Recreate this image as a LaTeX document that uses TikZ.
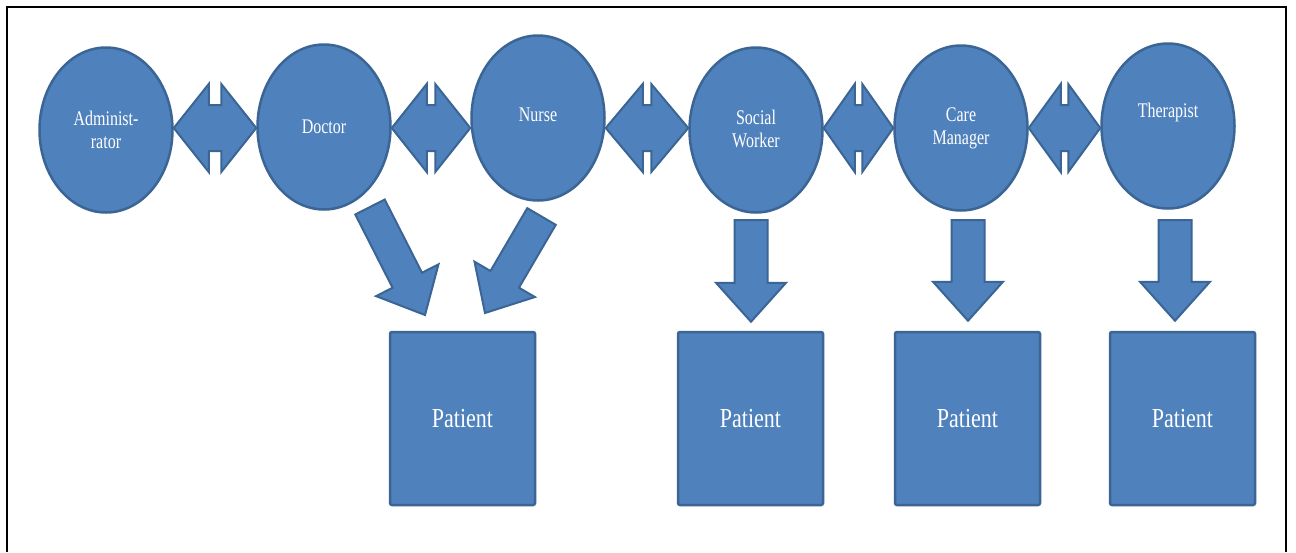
\documentclass[tikz,border=0pt]{standalone}
\usepackage{fontspec}
\setmainfont{Liberation Serif}
\usepackage{graphicx}
\usetikzlibrary{shapes.geometric,calc}

\definecolor{officeblue}{HTML}{4F81BD}
\definecolor{officeedge}{HTML}{3A6594}

% tall, narrow lettering
\newcommand\tallline[1]{\scalebox{1}[1.3]{#1}}
\newcommand\tallbox[1]{\scalebox{1}[1.25]{#1}}

\tikzset{
  blockshape/.style={fill=officeblue, draw=officeedge, line width=2pt, line join=miter},
  role/.style={ellipse, fill=officeblue, draw=officeedge, line width=2.5pt,
    minimum width=133pt, minimum height=165pt, inner sep=0pt},
  roletext/.style={text=white, align=center, font=\fontsize{16}{23}\selectfont, inner sep=0pt},
  patientbox/.style={rectangle, rounded corners=2pt, fill=officeblue, draw=officeedge,
    line width=2.5pt, minimum width=145pt, minimum height=173pt, text=white,
    font=\fontsize{22}{26}\selectfont},
}

% single block arrow: tail centre #1, tip #2
\newcommand\blockarrow[2]{%
  \coordinate (ba-h) at ($(#2)!39pt!(#1)$);
  \draw[blockshape] ($(#1)!16.5pt!90:(#2)$) -- ($(ba-h)!16.5pt!90:(#2)$)
    -- ($(ba-h)!35pt!90:(#2)$) -- (#2) -- ($(ba-h)!35pt!-90:(#2)$)
    -- ($(ba-h)!16.5pt!-90:(#2)$) -- ($(#1)!16.5pt!-90:(#2)$) -- cycle;}

% double-headed block arrow between two role nodes, head length #3
\newcommand\dblarrow[3]{%
  \coordinate (da-l) at (#1.east |- arrowline);
  \coordinate (da-r) at (#2.west |- arrowline);
  \coordinate (da-hl) at ($(da-l)!#3pt!(da-r)$);
  \coordinate (da-hr) at ($(da-r)!#3pt!(da-l)$);
  \draw[blockshape] (da-l) -- ($(da-hl)!44pt!90:(da-r)$) -- ($(da-hl)!23pt!90:(da-r)$)
    -- ($(da-hr)!23pt!-90:(da-l)$) -- ($(da-hr)!44pt!-90:(da-l)$) -- (da-r)
    -- ($(da-hr)!44pt!90:(da-l)$) -- ($(da-hr)!23pt!90:(da-l)$)
    -- ($(da-hl)!23pt!-90:(da-r)$) -- ($(da-hl)!44pt!-90:(da-r)$) -- cycle;}

\begin{document}
\begin{tikzpicture}[x=1pt, y=-1pt]
  \useasboundingbox (0,0) rectangle (1296,552);
  \fill[white] (0,0) rectangle (1296,552);

  % outer frame
  \draw[black, line width=2pt] (7,552) -- (7,7) -- (1286,7) -- (1286,552);

  \coordinate (arrowline) at (0,128);

  % roles
  \node[role, label={[roletext]center:{\tallline{Administ-}\\\tallline{rator}}}] (adm) at (106,130) {};
  \node[role, label={[roletext]center:{\tallline{Doctor}}}] (doc) at (324,127) {};
  \node[role, label={[roletext, yshift=3pt]center:{\tallline{Nurse}}}] (nur) at (538,118) {};
  \node[role, label={[roletext, yshift=1pt]center:{\tallline{Social}\\\tallline{Worker}}}] (soc) at (756,130) {};
  \node[role, label={[roletext]center:{\tallline{Care}\\\tallline{Manager}}}] (car) at (961,128) {};
  \node[role, label={[roletext, yshift=14pt]center:{\tallline{Therapist}}}] (the) at (1168,126) {};

  % patients
  \node[patientbox] (p1) at (462.5,418.5) {\tallbox{Patient}};
  \node[patientbox] (p2) at (750.5,418.5) {\tallbox{Patient}};
  \node[patientbox] (p3) at (967.5,418.5) {\tallbox{Patient}};
  \node[patientbox] (p4) at (1182.5,418.5) {\tallbox{Patient}};

  % links between roles
  \dblarrow{adm}{doc}{35}
  \dblarrow{doc}{nur}{35}
  \dblarrow{nur}{soc}{37}
  \dblarrow{soc}{car}{31}
  \dblarrow{car}{the}{32}

  % roles to patients
  \coordinate (docout) at (370,207);
  \coordinate (docin)  at (425,315);
  \coordinate (nurout) at (541.5,216.5);
  \coordinate (nurin)  at (485,313);
  \coordinate (socout) at (751,220);
  \coordinate (socin)  at ($(p2.north)+(0.5,-9)$);
  \coordinate (carout) at (968,220);
  \coordinate (carin)  at ($(p3.north)+(0.5,-10)$);
  \coordinate (theout) at (1175,220);
  \coordinate (thein)  at ($(p4.north)+(-7.5,-10)$);
  \blockarrow{docout}{docin}
  \blockarrow{nurout}{nurin}
  \blockarrow{socout}{socin}
  \blockarrow{carout}{carin}
  \blockarrow{theout}{thein}
\end{tikzpicture}
\end{document}
